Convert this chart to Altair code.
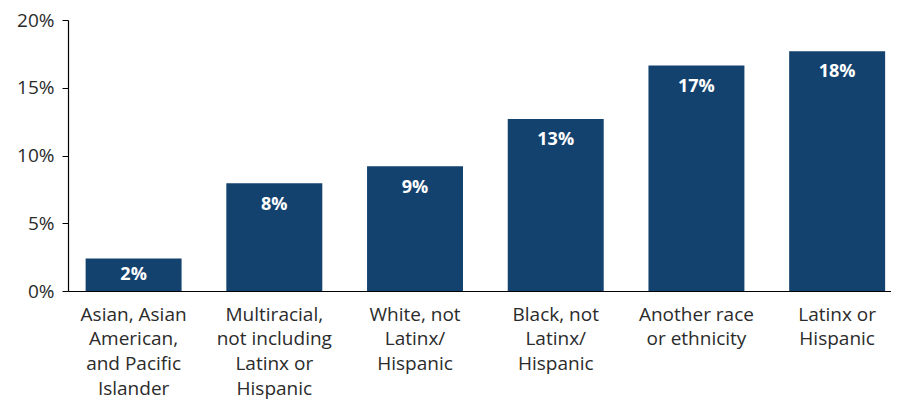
import altair as alt
import pandas as pd

categories = [
    "Asian, Asian|American,|and Pacific|Islander",
    "Multiracial,|not including|Latinx or|Hispanic",
    "White, not|Latinx/|Hispanic",
    "Black, not|Latinx/|Hispanic",
    "Another race|or ethnicity",
    "Latinx or|Hispanic",
]
values = [2.4, 7.95, 9.2, 12.7, 16.65, 17.7]
labels = ["2%", "8%", "9%", "13%", "17%", "18%"]

df = pd.DataFrame({"category": categories, "value": values, "label": labels})

FONT = "Open Sans"
BAR = "#13426F"
TEXT = "#2b2b2b"

x = alt.X(
    "category:N",
    sort=None,
    title=None,
    scale=alt.Scale(paddingInner=0.318, paddingOuter=0.0835, align=0.75),
    axis=alt.Axis(
        labelAngle=0,
        labelExpr="split(datum.value, '|')",
        labelFont=FONT,
        labelFontSize=19,
        labelColor=TEXT,
        labelLineHeight=24.7,
        labelPadding=14,
        labelBaseline="top",
        labelOverlap=False,
        labelBound=False,
        ticks=False,
        domainColor="#000000",
        domainWidth=1.2,
    ),
)

y_axis = alt.Axis(
    values=[0, 5, 10, 15, 20],
    labelExpr="datum.value + '%'",
    labelFont=FONT,
    labelFontSize=19,
    labelColor=TEXT,
    labelPadding=8,
    tickSize=6,
    tickColor="#000000",
    domainColor="#000000",
    domainWidth=1.2,
    grid=False,
    title=None,
)

bars = alt.Chart(df).mark_bar(color=BAR).encode(
    x=x,
    y=alt.Y("value:Q", scale=alt.Scale(domain=[0, 20], nice=False), axis=y_axis),
)

text = alt.Chart(df).transform_calculate(
    ly="max(datum.value - 1.57, datum.value / 2)"
).mark_text(
    font=FONT, fontSize=18, fontWeight="bold", color="white", baseline="middle"
).encode(
    x=alt.X("category:N", sort=None),
    y=alt.Y("ly:Q"),
    text="label:N",
)

chart = (
    alt.layer(bars, text)
    .properties(
        width=823,
        height=271,
        autosize=alt.AutoSizeParams(type="none"),
        padding={"left": 60, "top": 12, "right": 0, "bottom": 112},
    )
    .configure_view(stroke=None)
)

chart.save("out.html", embed_options={"renderer": "svg", "actions": False})
